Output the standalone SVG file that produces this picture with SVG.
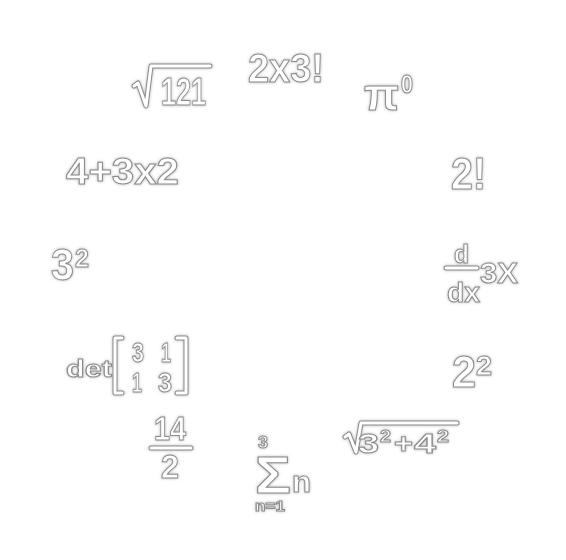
<svg xmlns="http://www.w3.org/2000/svg" width="566" height="560" viewBox="0 0 566 560">
<defs>
<filter id="glow" x="-20%" y="-20%" width="140%" height="140%">
<feGaussianBlur in="SourceAlpha" stdDeviation="1.6" result="b"/>
<feFlood flood-color="#777" flood-opacity="0.55"/>
<feComposite in2="b" operator="in" result="s"/>
<feMerge><feMergeNode in="s"/><feMergeNode in="SourceGraphic"/></feMerge>
</filter>
<style>
.t{fill:#fff;stroke:#8c8c8c;stroke-width:1;font-weight:bold;font-family:'Liberation Sans','DejaVu Sans',sans-serif;}
.lo{fill:none;stroke:#8c8c8c;stroke-width:5;stroke-linecap:round;stroke-linejoin:round;}
.li{fill:none;stroke:#fff;stroke-width:3;stroke-linecap:round;stroke-linejoin:round;}
g{filter:url(#glow);}
</style>
</defs>
<rect width="566" height="560" fill="#fff"/>
<g id="n11">
<path class="lo" d="M134,86 L138,83 L146,106 L151,66 H210"/>
<path class="li" d="M134,86 L138,83 L146,106 L151,66 H210"/>
<text class="t" x="161" y="105" font-size="38" textLength="45" lengthAdjust="spacingAndGlyphs">121</text>
</g>
<g id="n12">
<text class="t" x="248" y="82" font-size="40" textLength="76" lengthAdjust="spacingAndGlyphs">2x3!</text>
</g>
<g id="n1">
<text class="t" x="364" y="110" font-size="44" textLength="35" lengthAdjust="spacingAndGlyphs">π</text>
<text class="t" x="401" y="93" font-size="25" textLength="12" lengthAdjust="spacingAndGlyphs">0</text>
</g>
<g id="n2">
<text class="t" x="451" y="189" font-size="44" textLength="35" lengthAdjust="spacingAndGlyphs">2!</text>
</g>
<g id="n3">
<text class="t" x="454" y="263" font-size="25" textLength="15" lengthAdjust="spacingAndGlyphs">d</text>
<path class="lo" d="M446,268 H477"/>
<path class="li" d="M446,268 H477"/>
<text class="t" x="447" y="302" font-size="27" textLength="33" lengthAdjust="spacingAndGlyphs">dx</text>
<text class="t" x="480" y="283" font-size="30" textLength="38" lengthAdjust="spacingAndGlyphs">3X</text>
</g>
<g id="n4">
<text class="t" x="452" y="387" font-size="44" textLength="24" lengthAdjust="spacingAndGlyphs">2</text>
<text class="t" x="476" y="375" font-size="28" textLength="16" lengthAdjust="spacingAndGlyphs">2</text>
</g>
<g id="n5">
<path class="lo" d="M345,437 L349,434 L356,452 L361,423 H457"/>
<path class="li" d="M345,437 L349,434 L356,452 L361,423 H457"/>
<text class="t" x="358" y="453" font-size="28" textLength="21" lengthAdjust="spacingAndGlyphs">3</text>
<text class="t" x="380" y="442" font-size="17" textLength="11" lengthAdjust="spacingAndGlyphs">2</text>
<text class="t" x="394" y="453" font-size="28" textLength="19" lengthAdjust="spacingAndGlyphs">+</text>
<text class="t" x="414" y="453" font-size="28" textLength="22" lengthAdjust="spacingAndGlyphs">4</text>
<text class="t" x="437" y="442" font-size="17" textLength="12" lengthAdjust="spacingAndGlyphs">2</text>
</g>
<g id="n6">
<text class="t" x="258" y="448" font-size="17" textLength="10" lengthAdjust="spacingAndGlyphs">3</text>
<text class="t" x="255" y="493" font-size="52" textLength="36" lengthAdjust="spacingAndGlyphs">Σ</text>
<text class="t" x="292" y="492" font-size="29" textLength="19" lengthAdjust="spacingAndGlyphs">n</text>
<text class="t" x="255" y="511" font-size="14" textLength="30" lengthAdjust="spacingAndGlyphs">n=1</text>
</g>
<g id="n7">
<text class="t" x="154" y="440" font-size="34" textLength="32" lengthAdjust="spacingAndGlyphs">14</text>
<path class="lo" d="M151,448 H191"/>
<path class="li" d="M151,448 H191"/>
<text class="t" x="161" y="478" font-size="34" textLength="18" lengthAdjust="spacingAndGlyphs">2</text>
</g>
<g id="n8">
<text class="t" x="66" y="377" font-size="24" textLength="46" lengthAdjust="spacingAndGlyphs">det</text>
<path class="lo" d="M122,338 H115 V393 H122"/>
<path class="li" d="M122,338 H115 V393 H122"/>
<path class="lo" d="M177,338 H186 V393 H177"/>
<path class="li" d="M177,338 H186 V393 H177"/>
<text class="t" x="132" y="362" font-size="27" textLength="12" lengthAdjust="spacingAndGlyphs">3</text>
<text class="t" x="161" y="362" font-size="27" textLength="10" lengthAdjust="spacingAndGlyphs">1</text>
<text class="t" x="132" y="392" font-size="27" textLength="10" lengthAdjust="spacingAndGlyphs">1</text>
<text class="t" x="158" y="392" font-size="27" textLength="14" lengthAdjust="spacingAndGlyphs">3</text>
</g>
<g id="n9">
<text class="t" x="51" y="280" font-size="44" textLength="23" lengthAdjust="spacingAndGlyphs">3</text>
<text class="t" x="75" y="267" font-size="26" textLength="14" lengthAdjust="spacingAndGlyphs">2</text>
</g>
<g id="n10">
<text class="t" x="66" y="184" font-size="36" textLength="113" lengthAdjust="spacingAndGlyphs">4+3x2</text>
</g>
</svg>
